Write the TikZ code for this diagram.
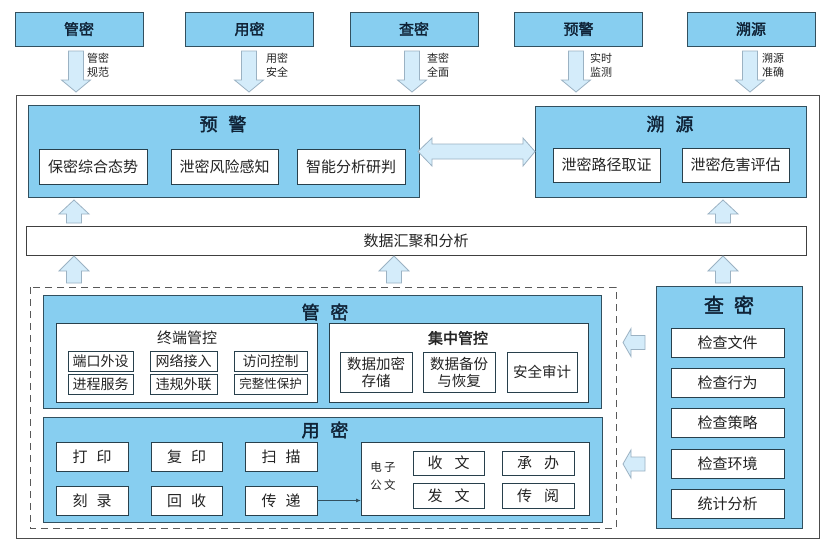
\documentclass[tikz,border=0pt]{standalone}
\usepackage{fontspec}
\setmainfont{Noto Sans CJK SC}[AutoFakeBold=2]
\usetikzlibrary{arrows.meta}
\definecolor{boxblue}{RGB}{135,206,240}
\definecolor{boxedge}{RGB}{50,80,95}
\definecolor{arrfill}{RGB}{212,236,250}
\definecolor{arredge}{RGB}{155,178,195}
\definecolor{titlecol}{RGB}{15,34,54}
\definecolor{txtcol}{RGB}{35,35,35}
\newcommand\myDarr[1]{\draw[blockarr] ({#1-7.5},51) -- ({#1+7.5},51) -- ({#1+7.5},80) -- ({#1+14.5},80) -- (#1,92) -- ({#1-14.5},80) -- ({#1-7.5},80) -- cycle;}
\newcommand\myUarr[4]{\draw[blockarr] (#1,#2) -- ({#1+15},#3) -- ({#1+7.5},#3) -- ({#1+7.5},#4) -- ({#1-7.5},#4) -- ({#1-7.5},#3) -- ({#1-15},#3) -- cycle;}
\newcommand\myLarr[1]{\draw[blockarr] (623,#1) -- (631,{#1-14}) -- (631,{#1-7}) -- (645,{#1-7}) -- (645,{#1+7}) -- (631,{#1+7}) -- (631,{#1+14}) -- cycle;}
\begin{document}
\begin{tikzpicture}[x=1pt,y=-1pt,
  blockarr/.style={fill=arrfill,draw=arredge,line width=0.8pt,line join=miter},
  bluebox/.style={fill=boxblue,draw=boxedge,line width=1pt,inner sep=0pt,outer sep=0pt},
  topbox/.style={bluebox,minimum width=128,minimum height=34,font=\fontsize{15}{15}\selectfont\bfseries,text=titlecol},
  whitebox/.style={fill=white,draw=boxedge!80!black,line width=0.8pt,inner sep=0pt,outer sep=0pt,font=\fontsize{15}{17}\selectfont,text=txtcol,align=center},
  title/.style={font=\fontsize{18}{18}\selectfont\bfseries,text=titlecol,inner sep=0pt},
  subtitle/.style={font=\fontsize{15}{15}\selectfont,text=txtcol,inner sep=0pt},
  lab/.style={font=\fontsize{11}{14}\selectfont,text=txtcol,align=left,anchor=west,inner sep=0pt}]
\useasboundingbox (0,0) rectangle (829,554);
\fill[white] (0,0) rectangle (829,554);
% top boxes
\node[topbox] (tgm) at (79,29) {管密};
\node[topbox] (tym) at (249.5,29) {用密};
\node[topbox] (tcm) at (414,29) {查密};
\node[topbox] (tyj) at (578.5,29) {预警};
\node[topbox] (tsy) at (751,29) {溯源};
% down arrows
\myDarr{76}
\myDarr{249}
\myDarr{412}
\myDarr{576}
\myDarr{750}
\node[lab] (l1) at (87,65) {管密\\规范};
\node[lab] (l2) at (266,65) {用密\\安全};
\node[lab] (l3) at (427,65) {查密\\全面};
\node[lab] (l4) at (590,65) {实时\\监测};
\node[lab] (l5) at (762,65) {溯源\\准确};
% outer frame
\draw[draw=black!70,line width=0.8pt] (16,95) rectangle (819,538);
% 预警
\node[bluebox,minimum width=391,minimum height=92] (yj) at (223.5,151) {};
\node[title] (yjt) at (223,124) {预\hspace{0.6em}警};
\node[whitebox,minimum width=108,minimum height=35] (yj1) at (93,166.5) {保密综合态势};
\node[whitebox,minimum width=107,minimum height=35] (yj2) at (224.5,166.5) {泄密风险感知};
\node[whitebox,minimum width=108,minimum height=35] (yj3) at (351,166.5) {智能分析研判};
% 溯源
\node[bluebox,minimum width=271,minimum height=91] (sy) at (670.5,151.5) {};
\node[title] (syt) at (670,124) {溯\hspace{0.6em}源};
\node[whitebox,minimum width=107,minimum height=34] (sy1) at (606.5,165) {泄密路径取证};
\node[whitebox,minimum width=107,minimum height=34] (sy2) at (735.5,165) {泄密危害评估};
% double arrow
\draw[blockarr] (418,151.5) -- (432,138) -- (432,144) -- (523,144) -- (523,138) -- (535,151.5) -- (523,166) -- (523,159) -- (432,159) -- (432,166) -- cycle;
% data bar
\node[whitebox,draw=black!75,minimum width=780,minimum height=29] (bar) at (416,240.5) {};
\node[subtitle] (bart) at (416,241) {数据汇聚和分析};
% up arrows
\myUarr{74}{200}{214}{223}
\myUarr{723}{200}{214}{223}
\myUarr{74}{256}{271}{283}
\myUarr{394}{256}{271}{283}
\myUarr{723}{256}{271}{283}
% dashed region
\draw[draw=black!65,line width=0.8pt,dash pattern=on 7pt off 5pt] (30,287) rectangle (616,528);
% 管密
\node[bluebox,minimum width=558,minimum height=113] (gm) at (322,351.5) {};
\node[title] (gmt) at (325,312) {管\hspace{0.6em}密};
\node[whitebox,minimum width=261,minimum height=79] (zd) at (186.5,362.5) {};
\node[subtitle] (zdt) at (187,338) {终端管控};
\tikzset{small/.style={whitebox,minimum height=20,font=\fontsize{14}{15}\selectfont}}
\node[small,minimum width=65] (z1) at (100.5,361) {端口外设};
\node[small,minimum width=67] (z2) at (183.5,361) {网络接入};
\node[small,minimum width=73] (z3) at (270.5,361) {访问控制};
\node[small,minimum width=65] (z4) at (100.5,384) {进程服务};
\node[small,minimum width=67] (z5) at (183.5,384) {违规外联};
\node[small,minimum width=73,font=\fontsize{12.5}{15}\selectfont] (z6) at (270.5,384) {完整性保护};
\node[whitebox,minimum width=259,minimum height=79] (jz) at (458.5,362.5) {};
\node[subtitle,font=\fontsize{15}{15}\selectfont\bfseries] (jzt) at (458,338) {集中管控};
\node[whitebox,minimum width=72,minimum height=40,font=\fontsize{14.5}{17}\selectfont] (j1) at (376,372) {数据加密\\存储};
\node[whitebox,minimum width=72,minimum height=40,font=\fontsize{14.5}{17}\selectfont] (j2) at (459,372) {数据备份\\与恢复};
\node[whitebox,minimum width=70,minimum height=40,font=\fontsize{14.5}{17}\selectfont] (j3) at (542,372) {安全审计};
% 用密
\node[bluebox,minimum width=559,minimum height=105] (ym) at (322.5,469.5) {};
\node[title] (ymt) at (325,430) {用\hspace{0.6em}密};
\node[whitebox,minimum width=72,minimum height=29] (u1) at (92,456.5) {打\hspace{0.6em}印};
\node[whitebox,minimum width=71,minimum height=29] (u2) at (186.5,456.5) {复\hspace{0.6em}印};
\node[whitebox,minimum width=72,minimum height=29] (u3) at (281,456.5) {扫\hspace{0.6em}描};
\node[whitebox,minimum width=72,minimum height=29] (u4) at (92,500.5) {刻\hspace{0.6em}录};
\node[whitebox,minimum width=71,minimum height=29] (u5) at (186.5,500.5) {回\hspace{0.6em}收};
\node[whitebox,minimum width=72,minimum height=29] (u6) at (281,500.5) {传\hspace{0.6em}递};
\node[whitebox,minimum width=228,minimum height=73] (dz) at (475,478.5) {};
\node[font=\fontsize{11.5}{18}\selectfont,text=txtcol,align=center,inner sep=0pt] (dzt) at (383,476) {电\hspace{0.2em}子\\公\hspace{0.2em}文};
\node[whitebox,minimum width=71,minimum height=24] (d1) at (448.5,463) {收\hspace{0.8em}文};
\node[whitebox,minimum width=72,minimum height=24] (d2) at (538,463) {承\hspace{0.8em}办};
\node[whitebox,minimum width=71,minimum height=25] (d3) at (448.5,495.5) {发\hspace{0.8em}文};
\node[whitebox,minimum width=72,minimum height=25] (d4) at (538,495.5) {传\hspace{0.8em}阅};
\draw[draw=boxedge,line width=0.8pt,-{Latex[length=5pt,width=4pt]}] (u6.east) -- (dz.west |- u6.east);
% 查密
\node[bluebox,minimum width=146,minimum height=242] (cm) at (729,407) {};
\node[title,font=\fontsize{20}{20}\selectfont\bfseries] (cmt) at (729,305) {查\hspace{0.5em}密};
\node[whitebox,minimum width=113,minimum height=29] (c1) at (727.5,342.5) {检查文件};
\node[whitebox,minimum width=113,minimum height=29] (c2) at (727.5,382.5) {检查行为};
\node[whitebox,minimum width=113,minimum height=29] (c3) at (727.5,423) {检查策略};
\node[whitebox,minimum width=113,minimum height=29] (c4) at (727.5,463.5) {检查环境};
\node[whitebox,minimum width=113,minimum height=29] (c5) at (727.5,504) {统计分析};
% left arrows
\myLarr{342.5}
\myLarr{464}
\end{tikzpicture}
\end{document}
